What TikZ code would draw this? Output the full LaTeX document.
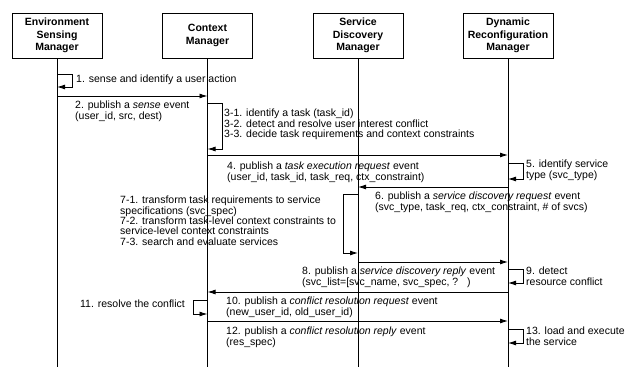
\documentclass[tikz,border=0pt]{standalone}
\usepackage{fontspec}
\setmainfont{Liberation Sans}
\usetikzlibrary{arrows.meta}
\begin{document}
\begin{tikzpicture}[x=1pt,y=-1pt,
  actor/.style={draw,line width=0.9pt,minimum width=90pt,minimum height=45pt,inner sep=0pt,align=center,font=\fontsize{10.5}{12.8}\selectfont\bfseries},
  life/.style={line width=0.8pt},
  msg/.style={line width=0.9pt,-{Latex[length=8pt,width=5pt]}},
  lbl/.style={anchor=north west,inner sep=0pt,align=left,font=\fontsize{10.5}{10.3}\selectfont}
]
\useasboundingbox (0,0) rectangle (632,367);
% actors
\node[actor] (esm) at (57,35.5) {Environment\\Sensing\\Manager};
\node[actor] (cm) at (207.5,35.5) {Context\\Manager};
\node[actor] (sdm) at (358,35.5) {Service\\Discovery\\Manager};
\node[actor] (drm) at (508,35.5) {Dynamic\\Reconfiguration\\Manager};
% lifeline ends
\coordinate (esmE) at (57,367);
\coordinate (cmE) at (207.5,367);
\coordinate (sdmE) at (358,367);
\coordinate (drmE) at (508,367);
\draw[life] (esm.south) -- (esmE);
\draw[life] (cm.south) -- (cmE);
\draw[life] (sdm.south) -- (sdmE);
\draw[life] (drm.south) -- (drmE);
% message points
\coordinate (e1a) at (57,74);  \coordinate (e1b) at (57,87);
\coordinate (e2) at (57,96);   \coordinate (c2) at (207.5,96);
\coordinate (c3a) at (207.5,103); \coordinate (c3b) at (207.5,149);
\coordinate (c4) at (207.5,155); \coordinate (d4) at (508,155);
\coordinate (d5a) at (508,163); \coordinate (d5b) at (508,179);
\coordinate (d6) at (508,187); \coordinate (s6) at (358,187);
\coordinate (s7a) at (358,194); \coordinate (s7b) at (358,253);
\coordinate (s8) at (358,262); \coordinate (d8) at (508,262);
\coordinate (d9a) at (508,269); \coordinate (d9b) at (508,283);
\coordinate (d10) at (508,292); \coordinate (c10) at (207.5,292);
\coordinate (c11a) at (207.5,300); \coordinate (c11b) at (207.5,314);
\coordinate (c12) at (207.5,321); \coordinate (d12) at (508,321);
\coordinate (d13a) at (508,329); \coordinate (d13b) at (508,343);
% connectors
\draw[msg] (e1a) -- ++(15,0) |- (e1b);
\draw[msg] (e2) -- (c2);
\draw[msg] (c3a) -- ++(14.5,0) |- (c3b);
\draw[msg] (c4) -- (d4);
\draw[msg] (d5a) -- ++(15,0) |- (d5b);
\draw[msg] (d6) -- (s6);
\draw[msg] (s7a) -- ++(-15,0) |- (s7b);
\draw[msg] (s8) -- (d8);
\draw[msg] (d9a) -- ++(15,0) |- (d9b);
\draw[msg] (d10) -- (c10);
\draw[msg] (c11a) -- ++(-14.5,0) |- (c11b);
\draw[msg] (c12) -- (d12);
\draw[msg] (d13a) -- ++(15,0) |- (d13b);
% labels
\node[lbl] (l1) at (76,75) {1. sense and identify a user action};
\node[lbl] (l2) at (75,101) {2. publish a \textit{sense} event\\(user\_id, src, dest)};
\node[lbl] (l3) at (224,109) {3-1. identify a task (task\_id)\\3-2. detect and resolve user interest conflict\\3-3. decide task requirements and context constraints};
\node[lbl] (l4) at (227,162) {4. publish a \textit{task execution request} event\\(user\_id, task\_id, task\_req, ctx\_constraint)};
\node[lbl] (l5) at (526,160) {5. identify service\\type (svc\_type)};
\node[lbl] (l6) at (375,192) {6. publish a \textit{service discovery request} event\\(svc\_type, task\_req, ctx\_constraint, \# of svcs)};
\node[lbl] (l7) at (120,196) {7-1. transform task requirements to service\\specifications (svc\_spec)\\7-2. transform task-level context constraints to\\service-level context constraints\\7-3. search and evaluate services};
\node[lbl] (l8) at (302,267) {8. publish a \textit{service discovery reply} event\\(svc\_list=[svc\_name, svc\_spec, ?~~~)};
\node[lbl] (l9) at (526,267) {9. detect\\resource conflict};
\node[lbl] (l10) at (226,297) {10. publish a \textit{conflict resolution request} event\\(new\_user\_id, old\_user\_id)};
\node[lbl,anchor=north east] (l11) at (185,300) {11. resolve the conflict};
\node[lbl] (l12) at (226,327) {12. publish a \textit{conflict resolution reply} event\\(res\_spec)};
\node[lbl] (l13) at (526,327) {13. load and execute\\the service};
\end{tikzpicture}
\end{document}
